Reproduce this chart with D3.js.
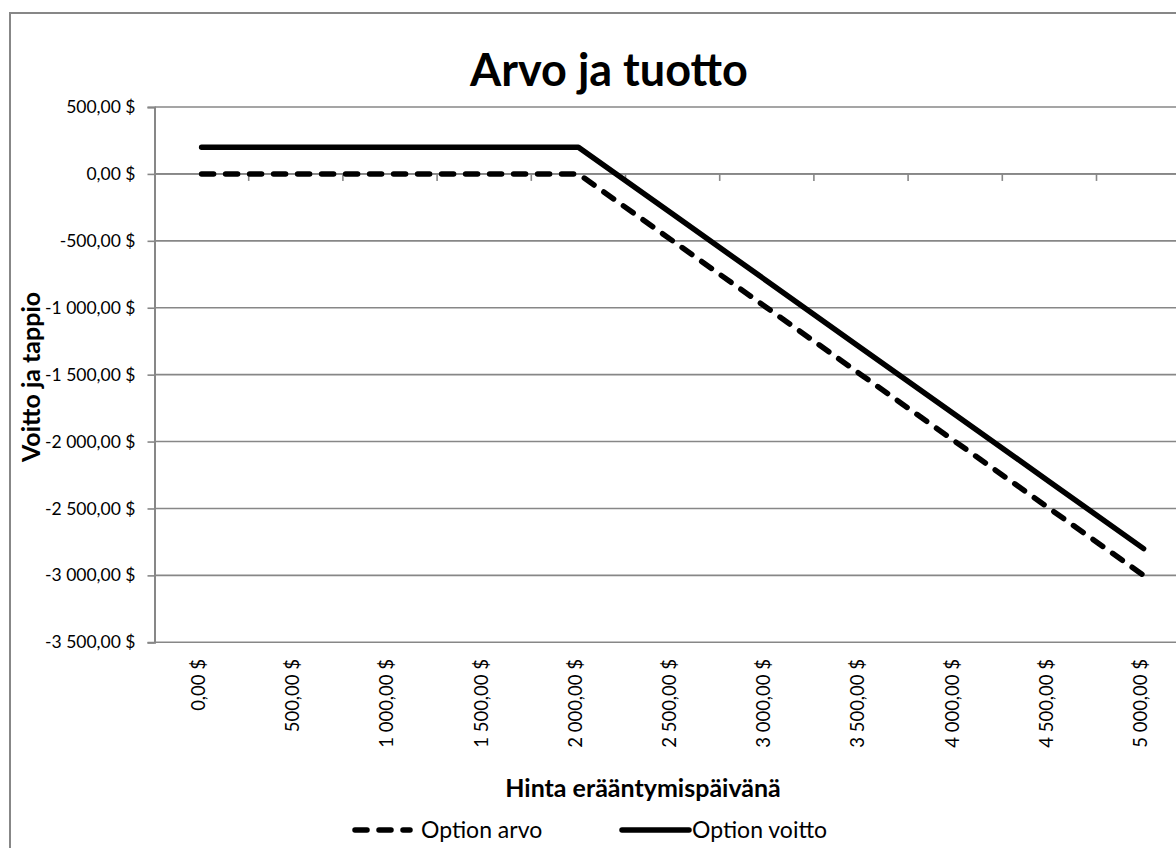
<!DOCTYPE html>
<html>
<head>
<meta charset="utf-8">
<script src="https://cdn.jsdelivr.net/npm/d3@7"></script>
<style>
  html, body { margin: 0; padding: 0; background: #fff; overflow: hidden; }
  svg { display: block; }
  text { font-family: Lato, "Open Sans", sans-serif; fill: #000; }
</style>
</head>
<body>
<svg id="chart" width="1176" height="848"></svg>
<script>
// ---- data ----
const categories = [0, 500, 1000, 1500, 2000, 2500, 3000, 3500, 4000, 4500, 5000];
const xTickLabels = ["0,00 $", "500,00 $", "1 000,00 $", "1 500,00 $", "2 000,00 $", "2 500,00 $",
                     "3 000,00 $", "3 500,00 $", "4 000,00 $", "4 500,00 $", "5 000,00 $"];
const optionArvo   = [0, 0, 0, 0, 0, -500, -1000, -1500, -2000, -2500, -3000];
const optionVoitto = [200, 200, 200, 200, 200, -300, -800, -1300, -1800, -2300, -2800];
const yTicks = [500, 0, -500, -1000, -1500, -2000, -2500, -3000, -3500];
const yTickLabels = ["500,00 $", "0,00 $", "-500,00 $", "-1 000,00 $", "-1 500,00 $",
                     "-2 000,00 $", "-2 500,00 $", "-3 000,00 $", "-3 500,00 $"];
const seriesNames = ["Option arvo", "Option voitto"];
const titleText = "Arvo ja tuotto";
const xTitle = "Hinta erääntymispäivänä";
const yTitle = "Voitto ja tappio";

// ---- layout ----
const svg = d3.select("#chart");
const plotLeft = 154.5, band = 94.2;
const plotRight = plotLeft + band * categories.length;
const plotTop = 107, plotBottom = 642.3;
const gridColor = "#878787";

const x = d3.scaleBand().domain(categories).range([plotLeft, plotRight]).padding(0);
const y = d3.scaleLinear().domain([-3500, 500]).range([plotBottom, plotTop]);
const cx = c => x(c) + x.bandwidth() / 2;

// outer frame
svg.append("rect").attr("x", 10).attr("y", 13).attr("width", 1220).attr("height", 900)
  .attr("fill", "none").attr("stroke", gridColor).attr("stroke-width", 2);

// title
svg.append("text").attr("x", 609).attr("y", 86).attr("text-anchor", "middle")
  .attr("font-size", 45).attr("font-weight", "bold").text(titleText);

// gridlines
svg.append("g").selectAll("line").data(yTicks).join("line")
  .attr("x1", plotLeft).attr("x2", plotRight)
  .attr("y1", d => y(d)).attr("y2", d => y(d))
  .attr("stroke", gridColor).attr("stroke-width", 1.6);

// y axis
const yAxis = d3.axisLeft(y).tickValues(yTicks).tickSize(7)
  .tickFormat((d, i) => yTickLabels[i]);
const gy = svg.append("g").attr("transform", `translate(${plotLeft},0)`).call(yAxis);
gy.select(".domain").attr("stroke", gridColor).attr("stroke-width", 2);
gy.selectAll(".tick line").attr("stroke", gridColor).attr("stroke-width", 1.6);
gy.selectAll(".tick text").attr("x", -19).attr("font-size", 17.5)
  .attr("font-family", "Lato, sans-serif").attr("fill", "#000");

// x axis line at zero with ticks between categories
const gx = svg.append("g").attr("transform", `translate(0,${y(0)})`);
gx.append("line").attr("x1", plotLeft).attr("x2", plotRight).attr("y1", 0).attr("y2", 0)
  .attr("stroke", gridColor).attr("stroke-width", 1.6);
gx.selectAll("line.tk").data(categories.slice(1)).join("line").attr("class", "tk")
  .attr("x1", d => x(d)).attr("x2", d => x(d)).attr("y1", 0).attr("y2", 7)
  .attr("stroke", gridColor).attr("stroke-width", 1.6);

// x tick labels at bottom, rotated
svg.append("g").selectAll("text").data(categories).join("text")
  .attr("transform", d => `translate(${cx(d) - 3},659) rotate(-90)`)
  .attr("text-anchor", "end").attr("dy", "0.35em")
  .attr("font-size", 18.5).text((d, i) => xTickLabels[i]);

// axis titles
svg.append("text").attr("x", 643).attr("y", 797).attr("text-anchor", "middle")
  .attr("font-size", 25).attr("font-weight", "bold").text(xTitle);
svg.append("text").attr("transform", "translate(40,377) rotate(-90)")
  .attr("text-anchor", "middle").attr("font-size", 25).attr("font-weight", "bold").text(yTitle);

// lines
const line = d3.line().x(d => cx(d.c)).y(d => y(d.v));
const arvoData = categories.map((c, i) => ({ c, v: optionArvo[i] }));
const voittoData = categories.map((c, i) => ({ c, v: optionVoitto[i] }));

svg.append("path").datum(arvoData).attr("d", line)
  .attr("fill", "none").attr("stroke", "#000").attr("stroke-width", 5.5)
  .attr("stroke-dasharray", "12,12").attr("stroke-linecap", "round");
svg.append("path").datum(voittoData).attr("d", line)
  .attr("fill", "none").attr("stroke", "#000").attr("stroke-width", 5.5)
  .attr("stroke-linejoin", "round").attr("stroke-linecap", "round");

// legend
const lg = svg.append("g");
lg.append("line").attr("x1", 355).attr("x2", 410).attr("y1", 830).attr("y2", 830)
  .attr("stroke", "#000").attr("stroke-width", 5.5)
  .attr("stroke-dasharray", "12,12").attr("stroke-linecap", "round");
lg.append("text").attr("x", 421).attr("y", 838).attr("font-size", 23).text(seriesNames[0]);
lg.append("line").attr("x1", 622).attr("x2", 689).attr("y1", 830).attr("y2", 830)
  .attr("stroke", "#000").attr("stroke-width", 5.5).attr("stroke-linecap", "round");
lg.append("text").attr("x", 692).attr("y", 838).attr("font-size", 23).text(seriesNames[1]);
</script>
</body>
</html>
